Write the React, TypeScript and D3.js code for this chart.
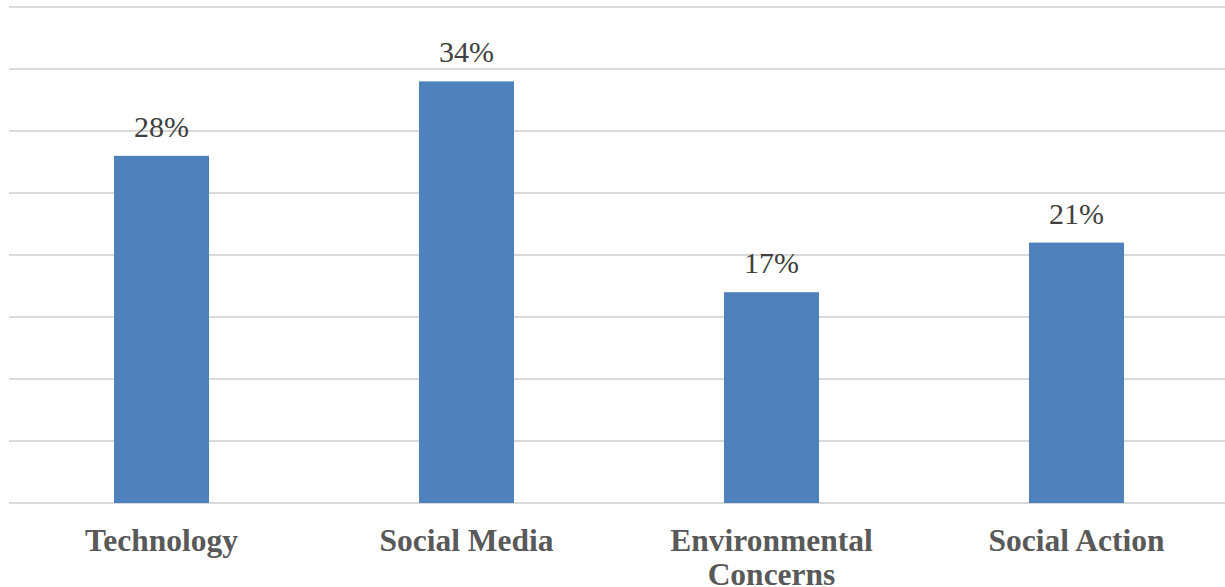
import React, { useEffect, useRef } from 'react';
import * as d3 from 'd3';

const categories = ['Technology', 'Social Media', 'Environmental Concerns', 'Social Action'];
const values = [28, 34, 17, 21];
const yTicks = [0, 5, 10, 15, 20, 25, 30, 35, 40];

// label lines, Excel wraps the long one
const labelLines: Record<string, string[]> = {
  'Environmental Concerns': ['Environmental', 'Concerns'],
};

export default function App() {
  const svgRef = useRef<SVGSVGElement>(null);

  useEffect(() => {
    if (!svgRef.current) return;

    const width = 1225;
    const height = 587;
    const plot = { left: 9, right: 1229, top: 7, bottom: 503 };

    const svg = d3.select(svgRef.current);
    svg.selectAll('*').remove();

    const x = d3.scaleBand<string>()
      .domain(categories)
      .range([plot.left, plot.right])
      .paddingInner(0.6885)
      .paddingOuter(0.6885 / 2);

    const y = d3.scaleLinear().domain([0, 40]).range([plot.bottom, plot.top]);

    // Gridlines
    svg.append('g')
      .selectAll('line')
      .data(yTicks)
      .enter().append('line')
      .attr('x1', plot.left)
      .attr('x2', width)
      .attr('y1', d => y(d))
      .attr('y2', d => y(d))
      .attr('stroke', '#d9d9d9')
      .attr('stroke-width', 2);

    // Bars
    svg.append('g')
      .selectAll('rect')
      .data(values)
      .enter().append('rect')
      .attr('x', (d, i) => x(categories[i])!)
      .attr('y', d => y(d))
      .attr('width', x.bandwidth())
      .attr('height', d => y(0) - y(d))
      .attr('fill', '#4f81bd');

    // Data labels
    svg.append('g')
      .selectAll('text')
      .data(values)
      .enter().append('text')
      .attr('x', (d, i) => x(categories[i])! + x.bandwidth() / 2)
      .attr('y', d => y(d) - 19)
      .attr('text-anchor', 'middle')
      .attr('font-family', '"Liberation Serif", serif')
      .attr('font-size', '30px')
      .attr('fill', '#404040')
      .text(d => `${d}%`);

    // Category labels
    const cat = svg.append('g')
      .selectAll('text')
      .data(categories)
      .enter().append('text')
      .attr('x', d => x(d)! + x.bandwidth() / 2)
      .attr('y', 551)
      .attr('text-anchor', 'middle')
      .attr('font-family', '"Liberation Serif", serif')
      .attr('font-size', '31.5px')
      .attr('font-weight', 'bold')
      .attr('fill', '#595959');

    cat.each(function (d) {
      const lines = labelLines[d] || [d];
      const t = d3.select(this);
      lines.forEach((line, i) => {
        t.append('tspan')
          .attr('x', x(d)! + x.bandwidth() / 2)
          .attr('dy', i === 0 ? 0 : 34)
          .text(line);
      });
    });

    svg.attr('width', width).attr('height', height);
  }, []);

  return (
    <svg
      ref={svgRef}
      width={1225}
      height={587}
      style={{ position: 'absolute', left: 0, top: 0, background: '#fff' }}
    />
  );
}
